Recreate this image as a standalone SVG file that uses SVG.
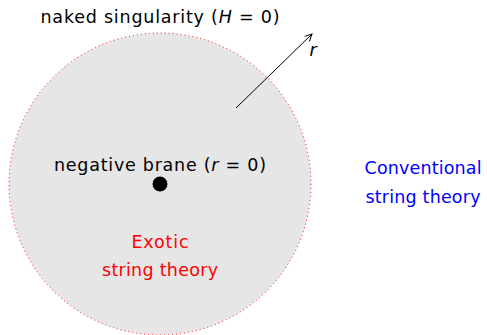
<svg xmlns="http://www.w3.org/2000/svg" width="487" height="335" viewBox="0 0 487 335">
<defs>
<marker id="ah" markerWidth="10" markerHeight="10" refX="8" refY="5" orient="auto" markerUnits="userSpaceOnUse">
<path d="M1,1.5 L8,5 L1,8.5" fill="none" stroke="#000" stroke-width="1"/>
</marker>
</defs>
<style>
text{font-family:"DejaVu Sans","Liberation Sans",sans-serif;font-size:17.5px;text-anchor:middle}
.it{font-style:italic}
</style>
<rect width="487" height="335" fill="#fff"/>
<g id="region">
<circle cx="160" cy="184" r="151" fill="#e6e6e6" stroke="#ff0000" stroke-width="1" stroke-dasharray="1 3"/>
</g>
<g id="brane">
<circle cx="160" cy="184" r="7.5" fill="#000"/>
<text x="160" y="171" textLength="212" lengthAdjust="spacing">negative brane (<tspan class="it">r</tspan> = 0)</text>
</g>
<g id="singularity">
<text x="160" y="23" textLength="239" lengthAdjust="spacing">naked singularity (<tspan class="it">H</tspan> = 0)</text>
</g>
<g id="connectors">
<line x1="236" y1="108" x2="312" y2="34" stroke="#000" stroke-width="1" marker-end="url(#ah)"/>
<text x="313" y="56" class="it" font-size="21">r</text>
</g>
<g id="exotic">
<text x="160" y="248" fill="#ff0000" textLength="57" lengthAdjust="spacing">Exotic</text>
<text x="160" y="276" fill="#ff0000" textLength="116" lengthAdjust="spacing">string theory</text>
</g>
<g id="conventional">
<text x="423" y="174" fill="#0000ff" textLength="117" lengthAdjust="spacing">Conventional</text>
<text x="423" y="203" fill="#0000ff" textLength="115" lengthAdjust="spacing">string theory</text>
</g>
</svg>
